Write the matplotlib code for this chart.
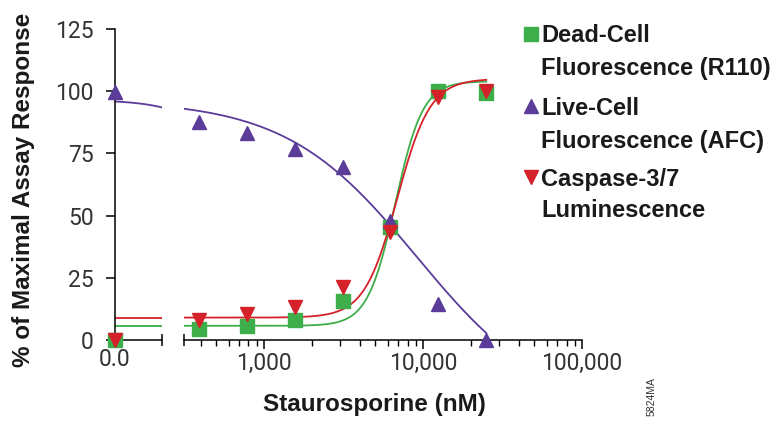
import numpy as np
import matplotlib
matplotlib.use("Agg")
import matplotlib.pyplot as plt
from matplotlib.lines import Line2D
from matplotlib.ticker import FixedLocator, NullFormatter, LogLocator

# ---------------- data ----------------
conc = [390.6, 781.25, 1562.5, 3125, 6250, 12500, 25000]      # nM
zero_label = "0.0"
dead_zero = 0.0
dead_vals = [4.3, 5.8, 8.0, 15.7, 45.5, 100.0, 99.3]
live_zero = 99.7
live_vals = [87.5, 83.2, 76.6, 69.7, 48.0, 14.3, 0.0]
casp_zero = 0.0
casp_vals = [8.2, 10.5, 13.4, 21.3, 43.5, 97.8, 100.0]

# fitted 4PL curve parameters: bottom, top, EC50 (nM), Hill slope
dead_fit = (5.7, 104.0, 6700.0, 5.0)
live_fit = (-30.0, 96.5, 9200.0, -1.05)
casp_fit = (9.0, 105.0, 6900.0, 4.2)

y_ticks = [0, 25, 50, 75, 100, 125]
x_ticks = [1000, 10000, 100000]
x_ticklabels = ["1,000", "10,000", "100,000"]

legend_lines = [["Dead-Cell", "Fluorescence (R110)"],
                ["Live-Cell", "Fluorescence (AFC)"],
                ["Caspase-3/7", "Luminescence"]]

GREEN = "#3dae49"
PURPLE = "#5b3c99"
RED = "#d5222a"

def fourpl(x, p):
    b, t, c, h = p
    return b + (t - b) / (1.0 + (c / x) ** h)

W, H = 782, 424
fig = plt.figure(figsize=(W / 100, H / 100), dpi=100)

tick_font = dict(family=["Roboto", "DejaVu Sans"], weight="normal", size=16.5, color="#333333")
bold_font = ["Liberation Sans Narrow", "Liberation Sans", "DejaVu Sans"]

# pixel layout
x0_px, xl_end_px = 115, 162
xr_start_px, xr_end_px = 184.3, 582.0
y0_px, ytop_px = 340, 29

def fx(px):
    return px / W
def fy(py):
    return 1 - py / H

axL = fig.add_axes([fx(x0_px), fy(y0_px), fx(xl_end_px - x0_px), (y0_px - ytop_px) / H])
axR = fig.add_axes([fx(xr_start_px), fy(y0_px), fx(xr_end_px - xr_start_px), (y0_px - ytop_px) / H],
                   sharey=axL)

left_lo, left_hi = 60.0, 270.0
right_lo, right_hi = 10 ** 2.5, 1e5

for ax in (axL, axR):
    ax.set_xscale("log")
    ax.set_ylim(0, 125)
    ax.spines["top"].set_visible(False)
    ax.spines["right"].set_visible(False)
    for s in ax.spines.values():
        s.set_linewidth(1.1)
        s.set_color("black")
    ax.patch.set_visible(False)

axL.set_xlim(left_lo, left_hi)
axR.set_xlim(right_lo, right_hi)
axR.spines["left"].set_visible(False)

# y axis ticks
axL.set_yticks(y_ticks)
axL.tick_params(axis="y", direction="out", length=6.5, width=1.1, pad=9)
for lab in axL.get_yticklabels():
    lab.set(**tick_font)
axR.tick_params(axis="y", left=False, labelleft=False)

# left x axis: 0 tick and end tick
axL.xaxis.set_major_locator(FixedLocator([left_lo, left_hi]))
axL.xaxis.set_minor_locator(FixedLocator([]))
axL.set_xticklabels([zero_label, ""])
axL.tick_params(axis="x", which="major", direction="inout", length=8, width=1.1, pad=2)
for lab in axL.get_xticklabels():
    lab.set(**tick_font)

# right x axis
axR.xaxis.set_major_locator(FixedLocator(x_ticks))
axR.set_xticklabels(x_ticklabels)
axR.xaxis.set_minor_locator(LogLocator(base=10, subs=np.arange(2, 10), numticks=20))
axR.xaxis.set_minor_formatter(NullFormatter())
axR.tick_params(axis="x", which="major", direction="out", length=6.5, width=1.1, pad=2)
axR.tick_params(axis="x", which="minor", direction="out", length=4.3, width=1.0)
for lab in axR.get_xticklabels():
    lab.set(**tick_font)
# start tick of the right segment
axR.plot([right_lo], [0], marker="|", markersize=8, mew=1.1, color="black",
         clip_on=False, zorder=5)

# ---------------- curves ----------------
xl = np.logspace(np.log10(left_lo), np.log10(left_hi), 60)
xr = np.logspace(np.log10(right_lo), np.log10(25000), 300)

lw = 1.3
for ax, xs in ((axL, xl), (axR, xr)):
    ax.plot(xs, fourpl(xs, dead_fit), color=GREEN, lw=lw, zorder=2)
    ax.plot(xs, fourpl(xs, casp_fit), color=RED, lw=lw, zorder=2)
    ax.plot(xs, fourpl(xs, live_fit), color=PURPLE, lw=lw, zorder=2)

# ---------------- markers ----------------
ms = 9.5
mk = dict(linestyle="none", clip_on=False, zorder=4)
axL.plot([left_lo], [dead_zero], marker="s", color=GREEN, ms=ms, **mk)
axL.plot([left_lo], [live_zero], marker="^", color=PURPLE, ms=ms, **mk)
axL.plot([left_lo], [casp_zero], marker="v", color=RED, ms=ms, **mk)
axR.plot(conc, dead_vals, marker="s", color=GREEN, ms=ms, **mk)
axR.plot(conc, live_vals, marker="^", color=PURPLE, ms=ms, **mk)
axR.plot(conc, casp_vals, marker="v", color=RED, ms=ms, **mk)

# ---------------- axis titles ----------------
fig.text(fx(24), fy(190), "% of Maximal Assay Response", rotation=90,
         ha="center", va="center", family=bold_font, weight="bold", size=17.5, color="#1a1a1a")
fig.text(fx(374), fy(405), "Staurosporine (nM)", ha="center", va="center",
         family=bold_font, weight="bold", size=17.5, color="#1a1a1a")

# ---------------- legend ----------------
leg_marker_x = 530.5
leg_text_x = 541
leg_marker_y = [34, 106, 176.5]
leg_baselines = [[41.5, 74.5], [115, 147.5], [186, 217]]
leg_markers = ["s", "^", "v"]
leg_colors = [GREEN, PURPLE, RED]
for lines, my, bls, m, c in zip(legend_lines, leg_marker_y, leg_baselines, leg_markers, leg_colors):
    fig.add_artist(Line2D([fx(leg_marker_x)], [fy(my)], marker=m, color=c, ms=9.5,
                          linestyle="none", transform=fig.transFigure))
    for txt, bl in zip(lines, bls):
        fig.text(fx(leg_text_x), fy(bl), txt, ha="left", va="baseline", family=bold_font,
                 weight="bold", size=17, color="#1a1a1a")

fig.text(fx(652), fy(397), "5824MA", rotation=90, ha="center", va="center",
         family=["Liberation Sans", "DejaVu Sans"], size=7.5, color="#333333")

fig.savefig("out.png", dpi=100)
